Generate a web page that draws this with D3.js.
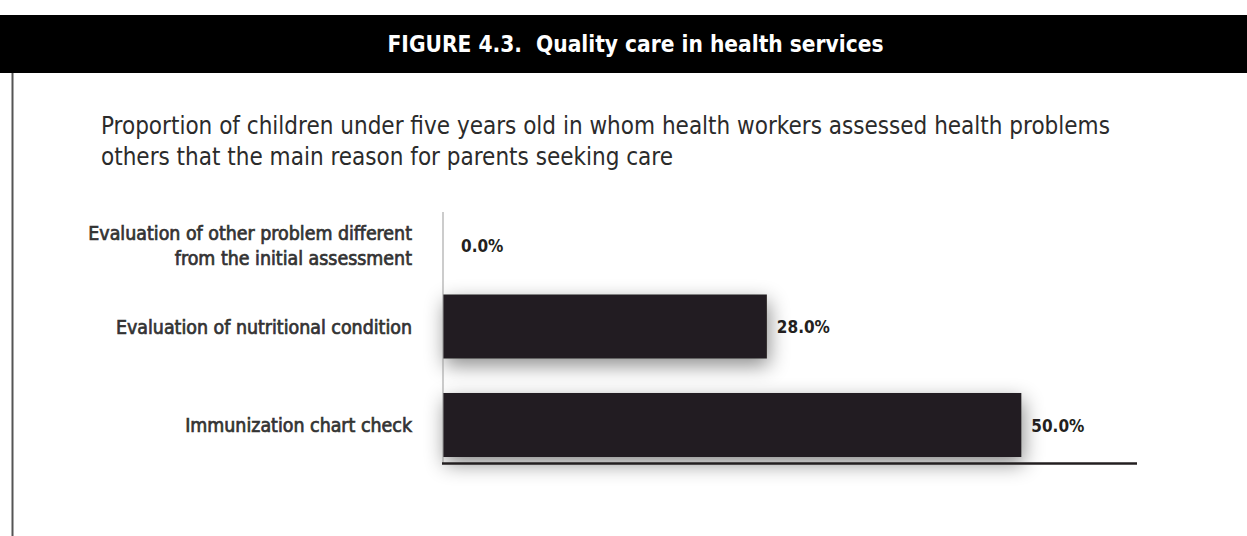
<!DOCTYPE html>
<html>
<head>
<meta charset="utf-8">
<script src="https://cdn.jsdelivr.net/npm/d3@7"></script>
<style>
  html, body { margin: 0; padding: 0; background: #fff; }
  svg { display: block; }
</style>
</head>
<body>
<svg id="chart" width="1247" height="536"></svg>
<script>
// ---- data ----
const titleText = "FIGURE 4.3.  Quality care in health services";
const subtitleLines = [
  "Proportion of children under five years old in whom health workers assessed health problems",
  "others that the main reason for parents seeking care"
];
const categories = [
  "Evaluation of other problem different from the initial assessment",
  "Evaluation of nutritional condition",
  "Immunization chart check"
];
const categoryLines = [
  ["Evaluation of other problem different", "from the initial assessment"],
  ["Evaluation of nutritional condition"],
  ["Immunization chart check"]
];
const values = [0.0, 28.0, 50.0];
const xDomain = [0, 60];

// ---- drawing ----
const W = 1247, H = 536;
const svg = d3.select("#chart");
const condensed = "'DejaVu Sans Condensed', 'DejaVu Sans', sans-serif";

const defs = svg.append("defs");
const f = defs.append("filter").attr("id", "shadow")
  .attr("x", "-10%").attr("y", "-80%").attr("width", "125%").attr("height", "280%");
f.append("feDropShadow").attr("dx", 2).attr("dy", 7).attr("stdDeviation", 10)
  .attr("flood-color", "#000").attr("flood-opacity", 0.45);

// header band
svg.append("rect").attr("x", 0).attr("y", 15).attr("width", W).attr("height", 58).attr("fill", "#000");
svg.append("text").attr("x", W / 2 + 12).attr("y", 52).attr("text-anchor", "middle")
  .attr("fill", "#fff").attr("font-family", condensed).attr("font-weight", "bold")
  .attr("font-size", 22.5).attr("xml:space", "preserve").text(titleText);

// left frame line
svg.append("line").attr("x1", 12.5).attr("x2", 12.5).attr("y1", 73).attr("y2", H)
  .attr("stroke", "#555").attr("stroke-width", 2);

// subtitle
svg.append("g").selectAll("text").data(subtitleLines).join("text")
  .attr("x", 101).attr("y", (d, i) => 134 + i * 31)
  .attr("fill", "#2b2b2b").attr("font-family", condensed).attr("font-size", 24)
  .text(d => d);

// scales
const x = d3.scaleLinear().domain(xDomain).range([443, 1137]);
const y = d3.scaleBand().domain(categories).range([178.75, 474.25])
  .paddingInner(0.35).paddingOuter(0.175);
const rowCenter = (i) => y(categories[i]) + y.bandwidth() / 2 + (values[i] === 0 ? 17 : 0);

// bars
svg.append("g").selectAll("rect").data(values).join("rect")
  .attr("x", x(0)).attr("y", (d, i) => y(categories[i]))
  .attr("width", d => x(d) - x(0)).attr("height", y.bandwidth())
  .attr("fill", "#231f20").attr("filter", "url(#shadow)");

// axes lines
svg.append("line").attr("x1", x(0)).attr("x2", x(0)).attr("y1", 212).attr("y2", 463)
  .attr("stroke", "#999").attr("stroke-width", 1);
svg.append("line").attr("x1", x(0) - 1).attr("x2", x(xDomain[1])).attr("y1", 463.5).attr("y2", 463.5)
  .attr("stroke", "#231f20").attr("stroke-width", 2.5);

// category labels
const lineH = 25;
const catG = svg.append("g");
categoryLines.forEach((lines, i) => {
  const cy = rowCenter(i);
  const t = catG.append("text").attr("text-anchor", "end")
    .attr("fill", "#333").attr("stroke", "#333").attr("stroke-width", 0.7)
    .attr("font-family", condensed).attr("font-size", 19.4);
  lines.forEach((ln, j) => {
    t.append("tspan").attr("x", 412)
      .attr("y", cy + 7 + (j - (lines.length - 1) / 2) * lineH).text(ln);
  });
});

// value labels
const fmt = d3.format(".1f");
svg.append("g").selectAll("text").data(values).join("text")
  .attr("x", d => x(d) + (d === 0 ? 18 : 10))
  .attr("y", (d, i) => rowCenter(i) + 6.5)
  .attr("fill", "#231f20").attr("font-family", condensed).attr("font-weight", "bold")
  .attr("font-size", 17)
  .text(d => fmt(d) + "%");
</script>
</body>
</html>
